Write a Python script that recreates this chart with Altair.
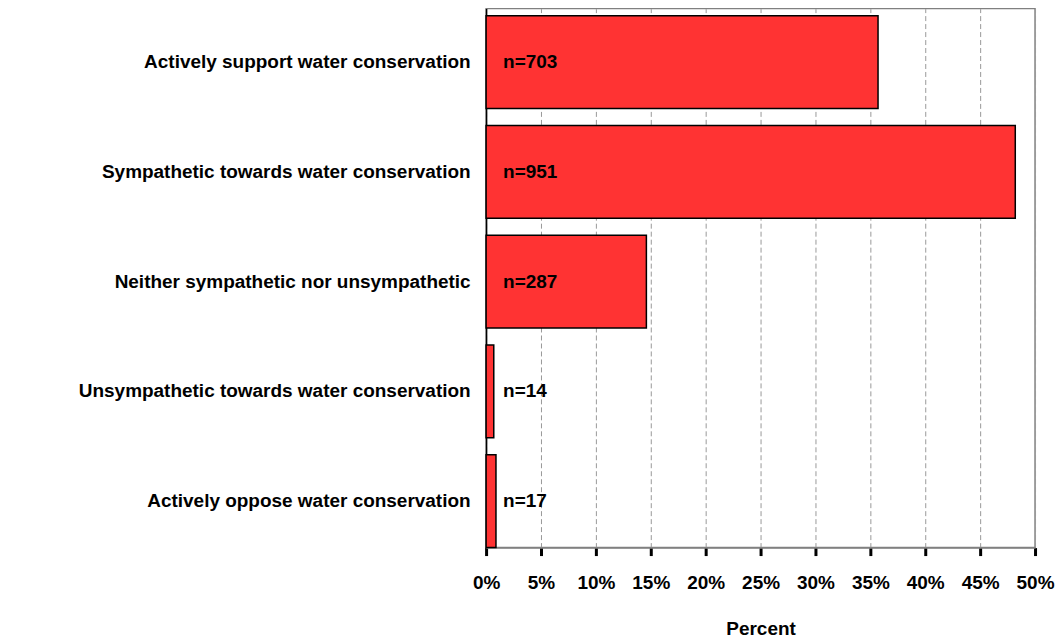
import altair as alt
import pandas as pd

categories = [
    "Actively support water conservation",
    "Sympathetic towards water conservation",
    "Neither sympathetic nor unsympathetic",
    "Unsympathetic towards water conservation",
    "Actively oppose water conservation",
]
percents = [0.357, 0.482, 0.146, 0.007, 0.009]
labels = ["n=703", "n=951", "n=287", "n=14", "n=17"]
x_ticks = [0, 0.05, 0.10, 0.15, 0.20, 0.25, 0.30, 0.35, 0.40, 0.45, 0.50]

df = pd.DataFrame({"cat": categories, "pct": percents, "lab": labels})

FONT = "Liberation Sans"
FS = 19

y_scale = alt.Scale(paddingInner=0.155, paddingOuter=0.032, align=1)

y_enc = alt.Y(
    "cat:N",
    sort=categories,
    title=None,
    scale=y_scale,
    axis=alt.Axis(
        labelFont=FONT, labelFontSize=FS, labelFontWeight="bold", labelColor="black",
        labelPadding=16, ticks=False, domainColor="black", domainWidth=1.5,
        grid=False, labelLimit=600,
    ),
)

x_enc = alt.X(
    "pct:Q",
    title="Percent",
    scale=alt.Scale(domain=[0, 0.5], nice=False),
    axis=alt.Axis(
        values=x_ticks, format=".0%", labelFlush=False,
        labelFont=FONT, labelFontSize=FS, labelFontWeight="bold", labelColor="black",
        labelPadding=18, tickColor="black", tickWidth=3, tickSize=8,
        domainColor="#808080", domainWidth=1.5,
        grid=True, gridColor="#999999", gridDash=[5, 3], gridWidth=1,
        titleFont=FONT, titleFontSize=FS, titleFontWeight="bold", titleColor="black",
        titlePadding=27,
    ),
)

bars = alt.Chart(df).mark_bar(
    color="#FF3333", stroke="black", strokeWidth=1.5
).encode(y=y_enc, x=x_enc)

text = alt.Chart(df).mark_text(
    align="left", baseline="middle", dx=17, font=FONT, fontSize=FS,
    fontWeight="bold", color="black",
).encode(y=alt.Y("cat:N", sort=categories), x=alt.datum(0), text="lab:N")

chart = alt.layer(bars, text).properties(
    width=550, height=540,
    padding={"left": 70, "top": 0, "right": 0, "bottom": 3},
).configure_view(stroke="#808080", strokeWidth=1.5)

chart.save("out.html", embed_options={"renderer": "svg", "actions": False})
